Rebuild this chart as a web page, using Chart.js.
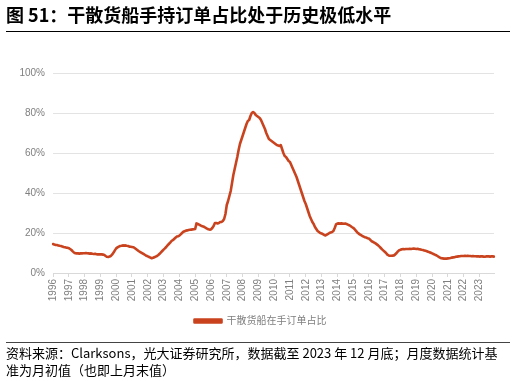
<!DOCTYPE html>
<html>
<head>
<meta charset="utf-8">
<script src="https://cdn.jsdelivr.net/npm/chart.js@4"></script>
<style>
  html, body { margin: 0; padding: 0; background: #fff; }
  body { width: 516px; height: 381px; position: relative; overflow: hidden; }
  #chart { position: absolute; left: 0; top: 0; }
  .title { position: absolute; left: 6px; top: 4px; font: bold 18px/20px "Noto Sans CJK SC", sans-serif; color: #000; white-space: nowrap; }
  .rule1 { position: absolute; left: 6px; top: 31px; width: 504px; height: 1px; background: #000; }
  .rule2 { position: absolute; left: 6px; top: 342px; width: 504px; height: 1px; background: #444; }
  .source { position: absolute; left: 6px; top: 344px; font: 13px/17px "Noto Sans CJK SC", sans-serif; color: #000; white-space: nowrap; }
</style>
</head>
<body>
<canvas id="chart" width="516" height="381"></canvas>
<div class="title">图 51：干散货船手持订单占比处于历史极低水平</div>
<div class="rule1"></div>
<div class="rule2"></div>
<div class="source">资料来源：Clarksons，光大证券研究所，数据截至 2023 年 12 月底；月度数据统计基<br>准为月初值（也即上月末值）</div>
<script>
// Years shown on the x axis
const years = [];
for (let y = 1996; y <= 2023; y++) years.push(String(y));

// Monthly categories (Jan 1996 – Dec 2023)
const months = [];
years.forEach(y => { for (let m = 1; m <= 12; m++) months.push(y + '-' + String(m).padStart(2, '0')); });

// Dry bulk orderbook as % of fleet (monthly)
const orderbookShare = [
  14.5, 14.2, 14.0, 14.0, 13.8, 13.6, 13.5, 13.3, 13.0, 12.9, 12.7, 12.6, // 1996
  12.4, 12.0, 11.5, 10.8, 10.2, 9.9, 9.8, 9.8, 9.7, 9.8, 9.8, 9.9,       // 1997
  9.9, 10.0, 9.9, 9.8, 9.7, 9.8, 9.6, 9.5, 9.6, 9.4, 9.3, 9.4,           // 1998
  9.3, 9.3, 9.2, 9.0, 8.5, 8.1, 8.0, 8.2, 8.6, 9.3, 10.2, 11.3,          // 1999
  12.3, 12.8, 13.2, 13.5, 13.6, 13.8, 13.7, 13.8, 13.6, 13.5, 13.2, 13.1, // 2000
  13.0, 12.9, 12.5, 12.0, 11.5, 11.0, 10.6, 10.2, 9.8, 9.4, 9.0, 8.6,    // 2001
  8.3, 8.0, 7.7, 7.4, 7.6, 7.9, 8.2, 8.5, 9.0, 9.6, 10.3, 11.0,          // 2002
  11.7, 12.3, 13.0, 13.8, 14.5, 15.2, 16.0, 16.4, 17.0, 17.6, 18.2, 18.4, // 2003
  18.7, 19.3, 20.0, 20.6, 20.9, 21.2, 21.3, 21.5, 21.6, 21.7, 21.8, 21.9, // 2004
  22.0, 24.8, 24.5, 24.2, 23.8, 23.5, 23.3, 23.0, 22.6, 22.2, 21.9, 21.7, // 2005
  21.8, 22.5, 23.5, 25.0, 25.0, 24.8, 25.0, 25.5, 25.5, 26.0, 27.0, 29.5, // 2006
  34.0, 36.0, 38.5, 41.0, 45.0, 49.0, 52.0, 55.0, 58.0, 61.5, 64.5, 66.5, // 2007
  68.5, 70.5, 72.5, 74.5, 76.0, 76.5, 78.5, 80.0, 80.5, 80.0, 79.0, 78.5, // 2008
  78.0, 77.5, 76.5, 75.0, 73.5, 72.0, 70.0, 68.5, 67.0, 66.5, 66.0, 65.5, // 2009
  65.0, 64.5, 64.0, 63.8, 63.5, 64.0, 62.0, 60.0, 58.5, 58.0, 57.0, 56.0, // 2010
  55.5, 54.0, 52.5, 51.0, 49.5, 48.0, 46.0, 44.0, 42.0, 40.0, 38.0, 36.0, // 2011
  34.5, 32.5, 30.5, 28.5, 27.0, 25.5, 24.5, 23.0, 22.0, 21.0, 20.5, 20.0, // 2012
  19.8, 19.4, 19.0, 18.8, 19.2, 19.6, 20.0, 20.3, 20.5, 21.0, 22.5, 24.3, // 2013
  24.7, 24.8, 24.7, 24.8, 24.7, 24.6, 24.7, 24.5, 24.2, 23.9, 23.5, 23.0, // 2014
  22.6, 22.0, 21.2, 20.4, 19.8, 19.3, 18.9, 18.5, 18.2, 17.9, 17.7, 17.4, // 2015
  17.2, 16.6, 15.9, 15.6, 15.2, 14.8, 14.3, 13.8, 13.2, 12.5, 11.8, 11.2, // 2016
  10.6, 10.0, 9.2, 8.8, 8.6, 8.6, 8.7, 8.8, 9.3, 10.0, 10.8, 11.4,       // 2017
  11.6, 11.9, 12.0, 11.9, 12.0, 12.0, 12.0, 12.1, 12.0, 12.1, 12.2, 12.1, // 2018
  12.0, 12.1, 11.9, 11.8, 11.6, 11.5, 11.3, 11.1, 10.9, 10.6, 10.4, 10.1, // 2019
  9.8, 9.5, 9.2, 8.9, 8.5, 8.1, 7.7, 7.4, 7.3, 7.2, 7.2, 7.2,            // 2020
  7.3, 7.4, 7.5, 7.7, 7.8, 7.9, 8.1, 8.2, 8.3, 8.4, 8.5, 8.5,            // 2021
  8.5, 8.6, 8.5, 8.6, 8.5, 8.5, 8.4, 8.5, 8.4, 8.4, 8.3, 8.4,            // 2022
  8.2, 8.3, 8.3, 8.2, 8.1, 8.3, 8.4, 8.3, 8.2, 8.3, 8.3, 8.2             // 2023
];

const seriesName = '干散货船在手订单占比';
const yTicks = [0, 20, 40, 60, 80, 100];

const FONT = '"Liberation Sans", "Noto Sans CJK SC", sans-serif';
const LINE = '#C9431E';

// Centre the legend on a slightly narrower band, as in the reference
const legendShift = {
  id: 'legendShift',
  afterLayout(chart) {
    if (chart.legend) { chart.legend.left += 27; }
  }
};

new Chart(document.getElementById('chart'), {
  type: 'line',
  data: {
    labels: months,
    datasets: [{
      label: seriesName,
      data: orderbookShare,
      borderColor: LINE,
      backgroundColor: LINE,
      borderWidth: 2.6,
      pointRadius: 0,
      tension: 0,
      borderJoinStyle: 'round',
      borderCapStyle: 'round'
    }]
  },
  plugins: [legendShift],
  options: {
    responsive: false,
    animation: false,
    layout: { padding: { top: 73, left: 0, right: 22, bottom: 45 } },
    plugins: {
      tooltip: { enabled: false },
      legend: {
        position: 'bottom',
        labels: {
          boxWidth: 27,
          boxHeight: 3,
          padding: 10,
          color: '#7f7f7f',
          font: { family: FONT, size: 10 }
        }
      }
    },
    scales: {
      x: {
        type: 'category',
        afterFit: s => { s.height = 33; },
        border: { display: true, color: '#d9d9d9', width: 1 },
        grid: {
          drawOnChartArea: false,
          drawTicks: true,
          tickLength: 4,
          color: ctx => (ctx.tick && months[ctx.index] && months[ctx.index].endsWith('-01')) ? '#d9d9d9' : 'rgba(0,0,0,0)'
        },
        ticks: {
          autoSkip: false,
          minRotation: 90,
          maxRotation: 90,
          padding: 2,
          color: '#7f7f7f',
          font: { family: FONT, size: 10 },
          callback: function (v, i) {
            const m = months[i];
            return m.endsWith('-01') ? years[years.indexOf(m.slice(0, 4))] : '';
          }
        }
      },
      y: {
        min: 0,
        max: 100,
        afterFit: s => { s.width = 53; },
        afterBuildTicks: s => { s.ticks = yTicks.map(v => ({ value: v })); },
        border: { display: false },
        grid: { color: '#e3e3e3', drawTicks: false, lineWidth: 1 },
        ticks: {
          padding: 8,
          color: '#7f7f7f',
          font: { family: FONT, size: 10 },
          callback: v => v + '%'
        }
      }
    }
  }
});
</script>
</body>
</html>
